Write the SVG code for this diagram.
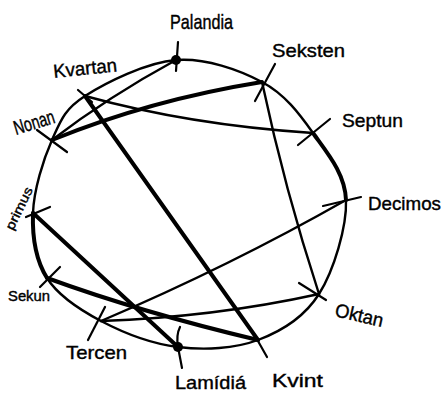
<svg xmlns="http://www.w3.org/2000/svg" width="444" height="394" viewBox="0 0 444 394">
<style>
.l{fill:none;stroke:#000;stroke-width:2.4;stroke-linecap:round;stroke-linejoin:round}
.t{fill:none;stroke:#000;stroke-width:4;stroke-linecap:round;stroke-linejoin:round}
.k{fill:none;stroke:#000;stroke-width:2.2;stroke-linecap:round}
.d{fill:#000}
text{font-family:"Liberation Sans",Arial,sans-serif;font-size:19px;fill:#000;stroke:#000;stroke-width:0.4}
</style>
<rect width="444" height="394" fill="#fff"/>
<g id="connectors">
<path class="l" d="M176,60 C205.5,57.7 239.2,69.8 262,82"/>
<path class="l" d="M262,82 C284.8,94.2 299,113.3 313,133"/>
<path class="t" d="M313,133 C327,152.7 345,173.2 346,200"/>
<path class="l" d="M346,200 C347,226.8 333.7,270.7 319,294"/>
<path class="l" d="M319,294 C304.3,317.3 281.5,331.2 258,340"/>
<path class="l" d="M258,340 C234.5,348.8 204.2,350.2 178,347"/>
<path class="l" d="M178,347 C151.8,343.8 122.8,332.5 101,321"/>
<path class="l" d="M101,321 C79.2,309.5 58.3,296 47,278"/>
<path class="t" d="M47,278 C35.7,260 32.2,236 33,213"/>
<path class="l" d="M33,213 C33.8,190 43.3,159.5 52,140"/>
<path class="l" d="M52,140 C60.7,120.5 64.3,109.3 85,96"/>
<path class="l" d="M85,96 C105.7,82.7 146.5,62.3 176,60"/>
<path class="l" d="M52,140 Q108,97 176,60"/>
<path class="t" d="M52,140 Q150,100 262,82"/>
<path class="l" d="M85,96 Q190,125 313,133"/>
<path class="t" d="M85,96 L258,340"/>
<path class="l" d="M262,82 Q285,190 319,294"/>
<path class="l" d="M346,200 Q230,266 101,321"/>
<path class="l" d="M319,294 Q215,317 101,321"/>
<path class="t" d="M33,213 L178,347"/>
<path class="t" d="M47,278 Q140,312 258,340"/>
</g>
<g id="palandia">
<path class="k" d="M178,42 L176,71"/>
<circle class="d" cx="176" cy="60" r="5"/>
<text x="170" y="29" style="font-size:21px" textLength="63" lengthAdjust="spacingAndGlyphs">Palandia</text>
</g>
<g id="seksten">
<path class="k" d="M275,64 L255,101"/>
<text x="272" y="57" textLength="73" lengthAdjust="spacingAndGlyphs">Seksten</text>
</g>
<g id="septun">
<path class="k" d="M330,119 L298,145"/>
<text x="342" y="127" textLength="61" lengthAdjust="spacingAndGlyphs">Septun</text>
</g>
<g id="decimos">
<path class="k" d="M323,206 L361,197"/>
<text x="368" y="210" textLength="73" lengthAdjust="spacingAndGlyphs">Decimos</text>
</g>
<g id="oktan">
<path class="k" d="M299,283 L326,300"/>
<text x="334" y="316" transform="rotate(13 334 316)" textLength="49" lengthAdjust="spacingAndGlyphs">Oktan</text>
</g>
<g id="kvint">
<path class="k" d="M254,334 L267,357"/>
<text x="272" y="387" textLength="51" lengthAdjust="spacingAndGlyphs">Kvint</text>
</g>
<g id="lamidia">
<path class="k" d="M180,327 Q176,335 178,347 L182,368"/>
<circle class="d" cx="178" cy="347" r="5"/>
<text x="175" y="389" textLength="71" lengthAdjust="spacingAndGlyphs">Lamídiá</text>
</g>
<g id="tercen">
<path class="k" d="M105,307 L88,340"/>
<text x="66" y="359" textLength="61" lengthAdjust="spacingAndGlyphs">Tercen</text>
</g>
<g id="sekun">
<path class="k" d="M60,267 L40,287"/>
<text x="8" y="301" style="font-size:15px" textLength="42" lengthAdjust="spacingAndGlyphs">Sekun</text>
</g>
<g id="primus">
<path class="k" d="M50,207 L26,217"/>
<text x="13" y="231" transform="rotate(-64 13 231)" style="font-size:13px" textLength="46" lengthAdjust="spacingAndGlyphs">primus</text>
</g>
<g id="nonan">
<path class="k" d="M37,130 L67,152"/>
<text x="16" y="135" transform="rotate(-17 16 135)" style="font-size:20px" textLength="42" lengthAdjust="spacingAndGlyphs">Nonan</text>
</g>
<g id="kvartan">
<path class="k" d="M78,90 L92,102"/>
<text x="54" y="78" transform="rotate(-6 54 78)" textLength="64" lengthAdjust="spacingAndGlyphs">Kvartan</text>
</g>
</svg>
